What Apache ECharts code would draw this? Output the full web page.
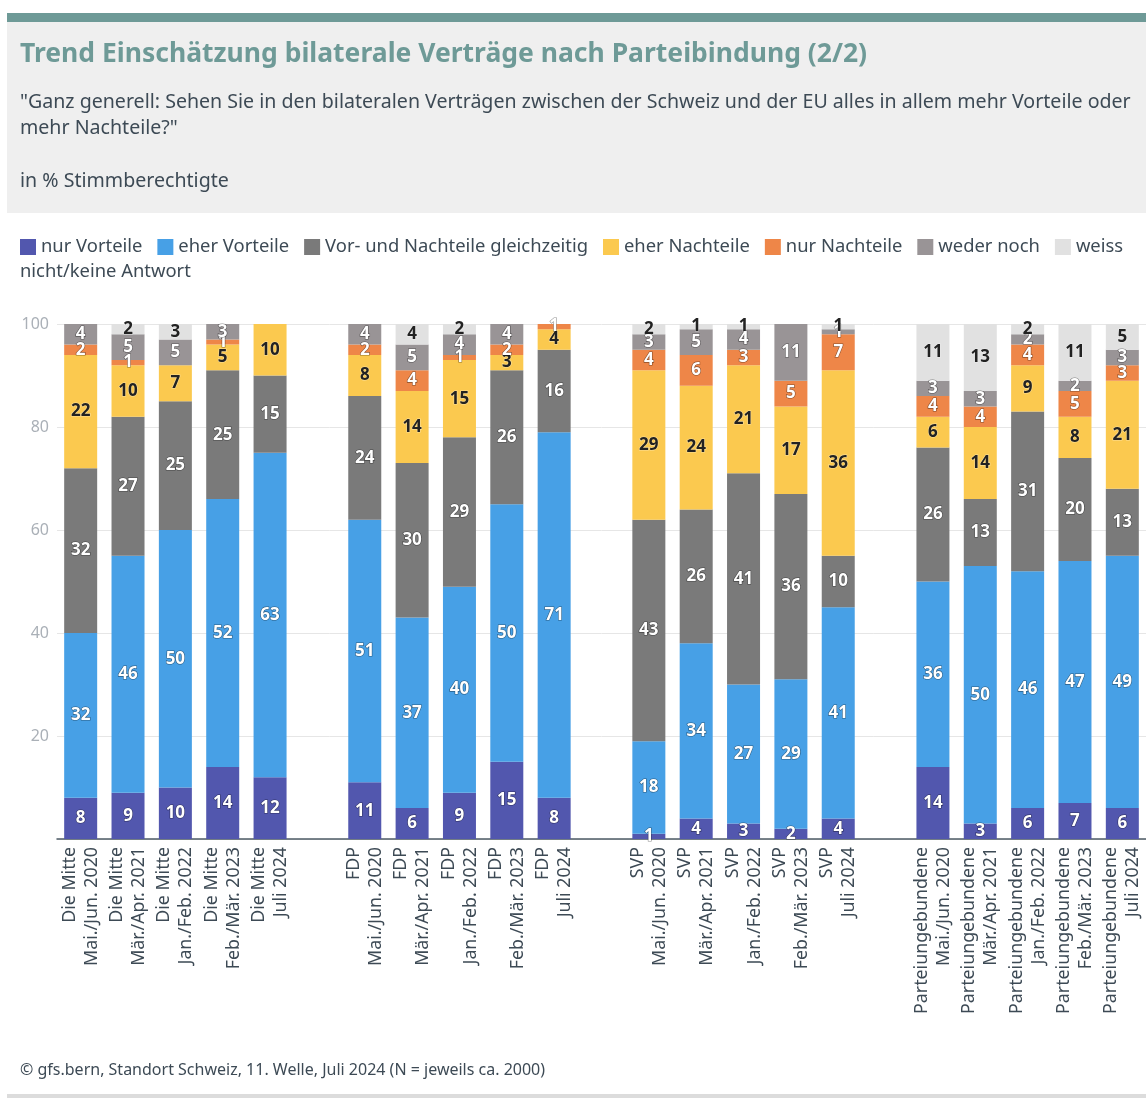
<!DOCTYPE html>
<html>
<head>
<meta charset="utf-8">
<script src="https://cdn.jsdelivr.net/npm/echarts@6/dist/echarts.min.js"></script>
<style>
  html, body { margin: 0; padding: 0; background: #fff; }
  #chart { width: 1146px; height: 1098px; }
</style>
</head>
<body>
<div id="chart"></div>
<script>
// Parteien und Befragungswellen
const groups = ['Die Mitte', 'FDP', 'SVP', 'Parteiungebundene'];
const waves = ['Mai./Jun. 2020', 'Mär./Apr. 2021', 'Jan./Feb. 2022', 'Feb./Mär. 2023', 'Juli 2024'];
const yTicks = [0, 20, 40, 60, 80, 100];

// Werte je Antwort, in Reihenfolge Mitte, FDP, SVP, Parteiungebundene (je 5 Wellen)
const nurVorteile   = [8, 9, 10, 14, 12,  11, 6, 9, 15, 8,   1, 4, 3, 2, 4,    14, 3, 6, 7, 6];
const eherVorteile  = [32, 46, 50, 52, 63, 51, 37, 40, 50, 71, 18, 34, 27, 29, 41, 36, 50, 46, 47, 49];
const beides        = [32, 27, 25, 25, 15, 24, 30, 29, 26, 16, 43, 26, 41, 36, 10, 26, 13, 31, 20, 13];
const eherNachteile = [22, 10, 7, 5, 10,  8, 14, 15, 3, 4,   29, 24, 21, 17, 36, 6, 14, 9, 8, 21];
const nurNachteile  = [2, 1, 0, 1, 0,     2, 4, 1, 2, 1,     4, 6, 3, 5, 7,     4, 4, 4, 5, 3];
const wederNoch     = [4, 5, 5, 3, 0,     4, 5, 4, 4, 0,     3, 5, 4, 11, 1,    3, 3, 2, 2, 3];
const weissNicht    = [0, 2, 3, 0, 0,     0, 4, 2, 0, 0,     2, 1, 1, 0, 1,     11, 13, 2, 11, 5];

const seriesDefs = [
  { name: 'nur Vorteile', data: nurVorteile, color: '#5257ae', label: '#fff' },
  { name: 'eher Vorteile', data: eherVorteile, color: '#47a0e6', label: '#fff' },
  { name: 'Vor- und Nachteile gleichzeitig', data: beides, color: '#7a7a7a', label: '#fff' },
  { name: 'eher Nachteile', data: eherNachteile, color: '#fbc94f', label: '#222' },
  { name: 'nur Nachteile', data: nurNachteile, color: '#ee8648', label: '#fff' },
  { name: 'weder noch', data: wederNoch, color: '#999496', label: '#fff' },
  { name: 'weiss nicht/keine Antwort', data: weissNicht, color: '#e1e1e1', label: '#222' }
];

// Kategorien mit einer leeren Spalte zwischen den Parteien
let categories = [];
groups.forEach((g, gi) => {
  waves.forEach(w => categories.push(g + '\n' + w));
  if (gi < groups.length - 1) categories.push('');
});

function withGaps(arr) {
  let out = [];
  groups.forEach((g, gi) => {
    for (let i = 0; i < waves.length; i++) out.push(arr[gi * waves.length + i]);
    if (gi < groups.length - 1) out.push('-');
  });
  return out;
}

const chart = echarts.init(document.getElementById('chart'));
const font = '"Noto Sans", sans-serif';

let series = seriesDefs.map(s => ({
  name: s.name,
  type: 'bar',
  stack: 'total',
  barWidth: 33,
  data: withGaps(s.data),
  itemStyle: { color: s.color },
  emphasis: { disabled: true },
  label: {
    show: true,
    position: 'inside',
    fontFamily: font,
    fontSize: 17,
    fontWeight: 'bold',
    color: s.label,
    textBorderColor: s.label === '#fff' ? 'rgba(0,0,0,0.45)' : 'rgba(255,255,255,0.4)',
    textBorderWidth: 1.2,
    formatter: p => (p.value > 0 ? p.value : '')
  }
}));

let option = {
  animation: false,
  backgroundColor: '#fff',
  textStyle: { fontFamily: font },
  graphic: [
    { type: 'rect', shape: { x: 7, y: 13, width: 1139, height: 9 }, style: { fill: '#6e9a97' } },
    { type: 'rect', shape: { x: 7, y: 22, width: 1139, height: 191 }, style: { fill: '#efefef' } },
    { type: 'text', left: 20, top: 41, style: {
        text: 'Trend Einschätzung bilaterale Verträge nach Parteibindung (2/2)',
        fontFamily: font, fontSize: 26.5, fontWeight: 'bold', fill: '#6e9a97' } },
    { type: 'text', left: 20, top: 89, style: {
        text: '"Ganz generell: Sehen Sie in den bilateralen Verträgen zwischen der Schweiz und der EU alles in allem mehr Vorteile oder\nmehr Nachteile?"\n\nin % Stimmberechtigte',
        fontFamily: font, fontSize: 19.6, lineHeight: 26.3, fill: '#3d4a55' } },
    { type: 'text', left: 20, top: 263, style: {
        text: 'nicht/keine Antwort', fontFamily: font, fontSize: 18.4, fill: '#3d4a55' } },
    { type: 'text', left: 20, top: 1062, style: {
        text: '© gfs.bern, Standort Schweiz, 11. Welle, Juli 2024 (N = jeweils ca. 2000)',
        fontFamily: font, fontSize: 16, fill: '#3d4a55' } },
    { type: 'rect', shape: { x: 7, y: 1094, width: 1139, height: 4 }, style: { fill: '#dcdcdc' } }
  ],
  legend: {
    left: 20,
    top: 238,
    padding: 0,
    itemWidth: 16,
    itemHeight: 16,
    itemGap: 15,
    icon: 'rect',
    textStyle: { fontFamily: font, fontSize: 18.4, color: '#3d4a55' },
    formatter: name => (name === 'weiss nicht/keine Antwort' ? 'weiss' : name),
    data: seriesDefs.map(s => s.name)
  },
  grid: { left: 57, right: 0, top: 324, bottom: 259, containLabel: false },
  xAxis: {
    type: 'category',
    data: categories,
    axisTick: { show: false },
    axisLine: { lineStyle: { color: '#4d5b66', width: 1.5 } },
    axisLabel: {
      rotate: 90,
      interval: 0,
      margin: 8,
      fontFamily: font,
      fontSize: 17.8,
      lineHeight: 22,
      color: '#3d4a55'
    }
  },
  yAxis: {
    type: 'value',
    min: yTicks[0],
    max: yTicks[yTicks.length - 1],
    interval: 20,
    axisLine: { show: false },
    axisTick: { show: false },
    splitLine: { lineStyle: { color: '#e6e6e6' } },
    axisLabel: {
      margin: 8,
      fontFamily: font,
      fontSize: 16,
      color: '#aab0b7',
      formatter: v => (v === 0 ? '' : v)
    }
  },
  series: series
};

chart.setOption(option);
</script>
</body>
</html>
